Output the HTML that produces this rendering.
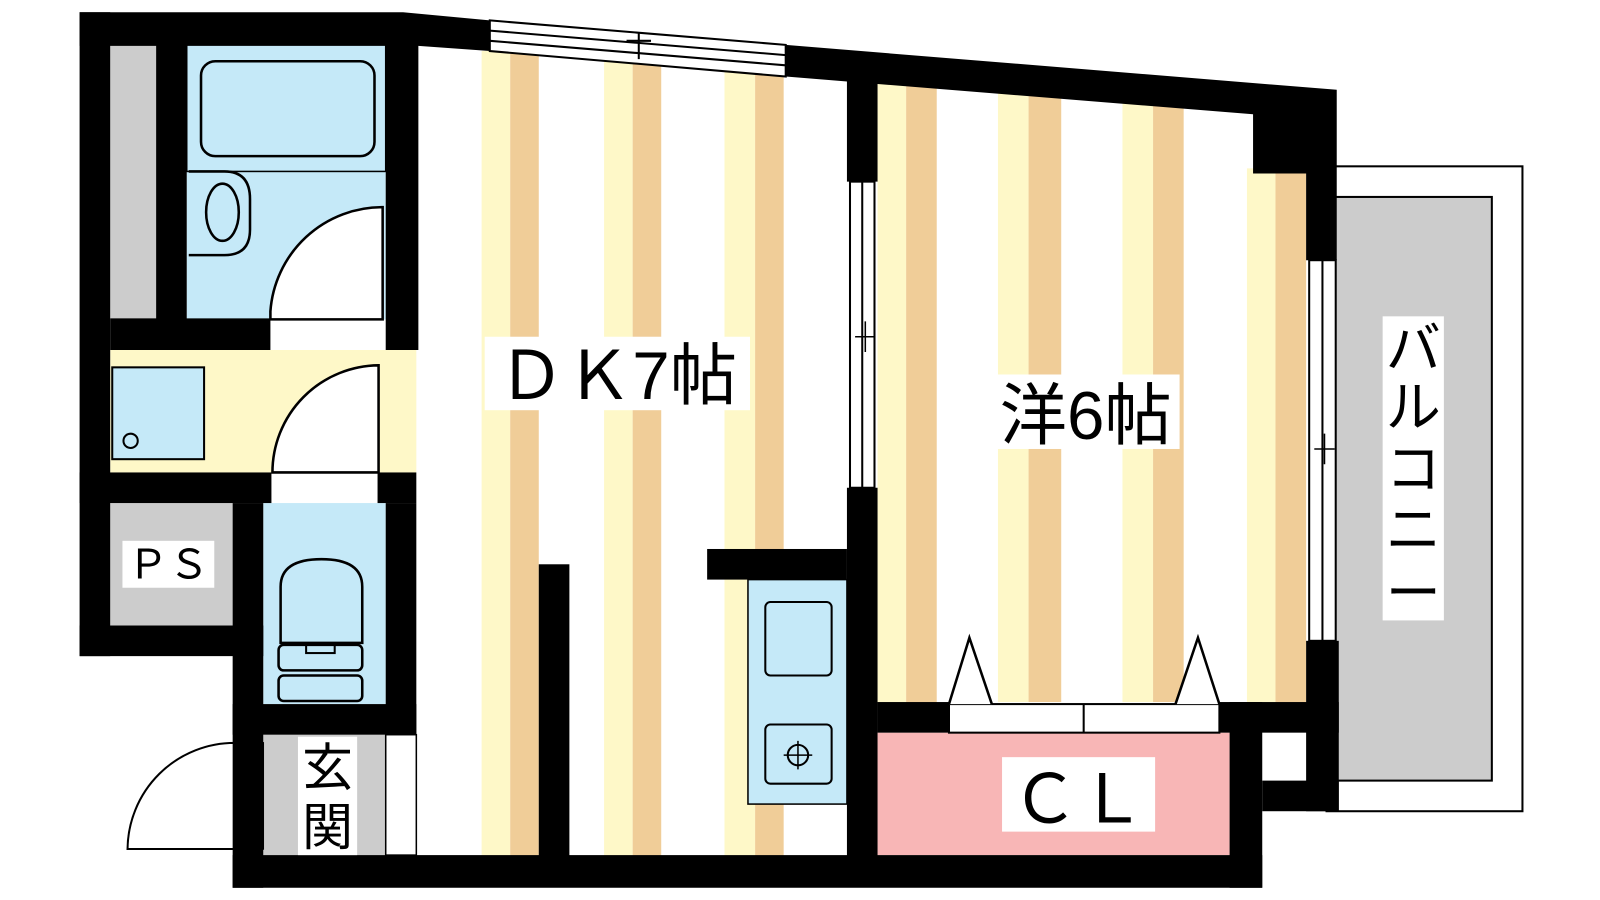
<!DOCTYPE html>
<html><head><meta charset="utf-8"><style>
html,body{margin:0;padding:0;background:#fff;width:1600px;height:900px;overflow:hidden}
svg{display:block}
text{font-family:"Liberation Sans","Noto Sans CJK JP",sans-serif;fill:#000}
</style></head><body>
<svg width="1600" height="900" viewBox="0 0 1568 882" preserveAspectRatio="none" xmlns="http://www.w3.org/2000/svg">
<!-- balcony -->
<rect x="1300" y="163" width="192" height="632" fill="#fff" stroke="#000" stroke-width="2"/>
<rect x="1300" y="193" width="162" height="572" fill="#ccc" stroke="#000" stroke-width="2"/>
<!-- DK stripes -->
<g>
<rect x="472" y="50" width="28" height="790" fill="#fef8c8"/><rect x="500" y="52" width="28" height="788" fill="#f0cd98"/>
<rect x="592" y="58" width="28" height="782" fill="#fef8c8"/><rect x="620" y="60" width="28" height="780" fill="#f0cd98"/>
<rect x="710" y="65" width="30" height="775" fill="#fef8c8"/><rect x="740" y="67" width="28" height="773" fill="#f0cd98"/>
</g>
<!-- Yo stripes -->
<g>
<rect x="860" y="80" width="28" height="610" fill="#fef8c8"/><rect x="888" y="82" width="30" height="608" fill="#f0cd98"/>
<rect x="978" y="88" width="30" height="600" fill="#fef8c8"/><rect x="1008" y="90" width="32" height="598" fill="#f0cd98"/>
<rect x="1100" y="95" width="30" height="593" fill="#fef8c8"/><rect x="1130" y="97" width="30" height="591" fill="#f0cd98"/>
<rect x="1222" y="165" width="28" height="525" fill="#fef8c8"/><rect x="1250" y="165" width="30" height="525" fill="#f0cd98"/>
</g>
<!-- bath area -->
<rect x="108" y="43" width="45" height="270" fill="#ccc"/>
<rect x="183" y="43" width="195" height="270" fill="#c5e9f8"/>
<rect x="183" y="43" width="195" height="125" fill="none" stroke="#000" stroke-width="1.5"/>
<rect x="197" y="60" width="170" height="93" rx="14" fill="none" stroke="#000" stroke-width="2.5"/>
<path d="M185 168 H220 Q245 168 245 195 V225 Q245 250 220 250 H185" fill="none" stroke="#000" stroke-width="2.5"/>
<ellipse cx="218" cy="208" rx="16" ry="28" fill="none" stroke="#000" stroke-width="2.5"/>
<path d="M265 313 V305 A110 110 0 0 1 375 203 V313 Z" fill="#fff" stroke="#000" stroke-width="2.5"/>
<!-- washroom -->
<rect x="108" y="343" width="300" height="120" fill="#fef8c8"/>
<rect x="110" y="360" width="90" height="90" fill="#c5e9f8" stroke="#000" stroke-width="2"/>
<circle cx="128" cy="432" r="7" fill="none" stroke="#000" stroke-width="2"/>
<path d="M267 463 A105 105 0 0 1 371 358 V463 Z" fill="#fff" stroke="#000" stroke-width="2.5"/>
<!-- PS -->
<rect x="108" y="493" width="120" height="120" fill="#ccc"/>
<!-- toilet -->
<rect x="258" y="493" width="120" height="197" fill="#c5e9f8"/>
<path d="M275 630 V575 Q275 548 315 548 Q355 548 355 575 V630 Z" fill="none" stroke="#000" stroke-width="2.5"/>
<rect x="273" y="632" width="82" height="25" rx="5" fill="none" stroke="#000" stroke-width="2.5"/>
<rect x="300" y="632" width="28" height="8" fill="none" stroke="#000" stroke-width="2"/>
<rect x="273" y="662" width="82" height="25" rx="5" fill="none" stroke="#000" stroke-width="2.5"/>
<!-- genkan -->
<rect x="258" y="720" width="120" height="118" fill="#ccc"/>
<rect x="378" y="720" width="30" height="118" fill="#fff" stroke="#000" stroke-width="1.5"/>
<path d="M125 832 A105 105 0 0 1 230 728 V832 Z" fill="#fff" stroke="#000" stroke-width="2"/>
<rect x="230" y="728" width="28" height="104" fill="#fff" stroke="#000" stroke-width="1.5"/>
<!-- kitchen -->
<rect x="733" y="568" width="97" height="220" fill="#c5e9f8" stroke="#000" stroke-width="1.5"/>
<rect x="750" y="590" width="65" height="72" rx="5" fill="none" stroke="#000" stroke-width="2"/>
<rect x="750" y="710" width="65" height="58" rx="5" fill="none" stroke="#000" stroke-width="2"/>
<circle cx="782" cy="740" r="10" fill="none" stroke="#000" stroke-width="2"/>
<path d="M768 740h28M782 726v28" stroke="#000" stroke-width="1.5"/>
<!-- CL -->
<rect x="860" y="718" width="345" height="120" fill="#f8b6b6"/>
<rect x="930" y="690" width="265" height="28" fill="#fff" stroke="#000" stroke-width="2"/>
<line x1="1062" y1="690" x2="1062" y2="718" stroke="#000" stroke-width="2"/>
<path d="M930 690 L950 625 L972 690" fill="#fff" stroke="#000" stroke-width="2.5"/>
<path d="M1152 690 L1174 625 L1195 690" fill="#fff" stroke="#000" stroke-width="2.5"/>
<!-- walls -->
<g fill="#000">
<polygon points="78,12 395,12 480,20 480,50 410,45 78,45"/>
<polygon points="770,44 1310,88 1310,255 1280,255 1280,170 1228,170 1228,112 770,75"/>
<rect x="78" y="12" width="30" height="631"/>
<rect x="153" y="43" width="30" height="270"/>
<rect x="378" y="43" width="32" height="300"/>
<rect x="108" y="312" width="157" height="31"/>
<rect x="78" y="463" width="188" height="30"/>
<rect x="370" y="463" width="38" height="30"/>
<rect x="78" y="613" width="180" height="30"/>
<rect x="228" y="493" width="30" height="377"/>
<rect x="378" y="493" width="30" height="227"/>
<rect x="228" y="690" width="180" height="30"/>
<rect x="228" y="838" width="1009" height="32"/>
<rect x="528" y="553" width="30" height="287"/>
<rect x="693" y="538" width="137" height="30"/>
<rect x="830" y="78" width="30" height="100"/>
<rect x="830" y="478" width="30" height="362"/>
<rect x="860" y="688" width="70" height="30"/>
<rect x="1195" y="688" width="117" height="30"/>
<rect x="1205" y="688" width="32" height="182"/>
<rect x="1280" y="628" width="32" height="167"/>
<rect x="1237" y="765" width="75" height="30"/>
</g>
<!-- top window -->
<polygon points="480,20 770,44 770,75 480,50" fill="#fff" stroke="#000" stroke-width="2"/>
<line x1="480" y1="30" x2="770" y2="54" stroke="#000" stroke-width="2"/>
<line x1="480" y1="40" x2="770" y2="64" stroke="#000" stroke-width="2"/>
<path d="M626 32v26M614 40h24" stroke="#000" stroke-width="2"/>
<!-- DK/Yo window -->
<rect x="833" y="178" width="24" height="300" fill="#fff" stroke="#000" stroke-width="2"/>
<line x1="845" y1="178" x2="845" y2="478" stroke="#000" stroke-width="2"/>
<path d="M838 330h20M848 315v30" stroke="#000" stroke-width="1.5"/>
<!-- right window -->
<rect x="1283" y="255" width="26" height="373" fill="#fff" stroke="#000" stroke-width="2"/>
<line x1="1296" y1="255" x2="1296" y2="628" stroke="#000" stroke-width="2"/>
<path d="M1288 440h20M1298 425v30" stroke="#000" stroke-width="1.5"/>
<!-- labels -->
<rect x="475" y="330" width="260" height="72" fill="#fff"/>
<text x="605" y="391" font-size="66" text-anchor="middle">ＤＫ7帖</text>
<rect x="972" y="367" width="184" height="73" fill="#fff"/>
<text x="1064" y="430" font-size="66" text-anchor="middle">洋6帖</text>
<rect x="120" y="530" width="90" height="46" fill="#fff"/>
<text x="165" y="567" font-size="40" text-anchor="middle">ＰＳ</text>
<rect x="292" y="722" width="58" height="116" fill="#fff"/>
<text x="321" y="770" font-size="50" text-anchor="middle">玄</text>
<text x="321" y="828" font-size="50" text-anchor="middle">関</text>
<rect x="1355" y="310" width="60" height="298" fill="#fff"/>
<text x="1385" y="360" font-size="54" text-anchor="middle">バ</text>
<text x="1385" y="418" font-size="54" text-anchor="middle">ル</text>
<text x="1385" y="478" font-size="54" text-anchor="middle">コ</text>
<text x="1385" y="538" font-size="54" text-anchor="middle">ニ</text>
<text x="1385" y="600" font-size="54" text-anchor="middle">ー</text>
<rect x="982" y="742" width="150" height="73" fill="#fff"/>
<text x="1057" y="806" font-size="66" text-anchor="middle">ＣＬ</text>
</svg>
</body></html>
